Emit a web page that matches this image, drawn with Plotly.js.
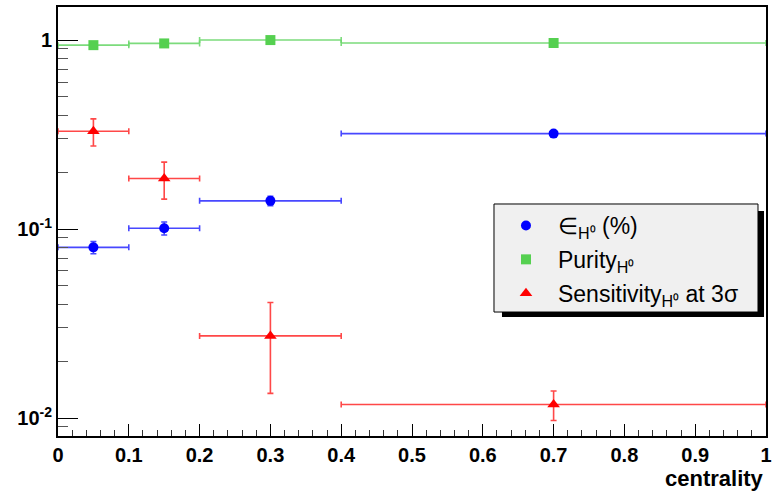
<!DOCTYPE html>
<html>
<head>
<meta charset="utf-8">
<script src="https://cdn.plot.ly/plotly-3.0.1.min.js"></script>
<style>html,body{margin:0;padding:0;background:#fff;}#chart{width:784px;height:491px;}</style>
</head>
<body>
<div id="chart"></div>
<script>
// bin centres and half widths (centrality)
const centers = [0.05, 0.15, 0.3, 0.7];
const halfWidths = [0.05, 0.05, 0.1, 0.3];
// efficiency (%)
const efficiency = [0.080, 0.101, 0.141, 0.32];
const efficiencyErr = [0.006, 0.008, 0.008, 0.0];
// purity
const purity = [0.94, 0.96, 1.00, 0.965];
// sensitivity at 3 sigma
const sensitivity = [0.329, 0.185, 0.0272, 0.0118];
const sensitivityErr = [0.054, 0.041, 0.0137, 0.0021];
// labels
const legendNames = ["∈<sub>H⁰</sub> (%)", "Purity<sub>H⁰</sub>", "Sensitivity<sub>H⁰</sub> at 3σ"];
const xTitle = "centrality";
const yTickVals = [0.01, 0.1, 1];
const yTickText = ["10<sup>-2</sup>", "10<sup>-1</sup>", "1"];

const FONT = "Liberation Sans, Arial, sans-serif";

function ex(color) {
  return {type: 'data', array: halfWidths, visible: true, color: color, thickness: 1.6, width: 3};
}

const traces = [
  {
    x: centers, y: efficiency, type: 'scatter', mode: 'markers', name: legendNames[0],
    legendgroup: 'a',
    marker: {symbol: 'circle', size: 10, color: '#0000ff'},
    error_x: ex('rgba(40,40,255,0.85)'),
    error_y: {type: 'data', array: efficiencyErr, visible: true, color: 'rgba(40,40,255,0.85)', thickness: 1.6, width: 3}
  },
  {
    x: centers, y: purity, type: 'scatter', mode: 'markers', name: legendNames[1],
    legendgroup: 'b',
    marker: {symbol: 'square', size: 10, color: '#55d050'},
    error_x: ex('rgba(110,215,110,0.9)')
  },
  {
    x: centers, y: sensitivity, type: 'scatter', mode: 'markers', name: legendNames[2],
    legendgroup: 'c',
    marker: {symbol: 'triangle-up', size: 11, color: '#ff0000'},
    error_x: ex('rgba(255,40,40,0.85)'),
    error_y: {type: 'data', array: sensitivityErr, visible: true, color: 'rgba(255,40,40,0.85)', thickness: 1.6, width: 3}
  }
];

const layout = {
  width: 784, height: 491,
  margin: {l: 58, r: 18, t: 7, b: 55},
  paper_bgcolor: '#ffffff', plot_bgcolor: '#ffffff',
  font: {family: FONT, color: '#000'},
  showlegend: true,
  xaxis: {
    range: [0, 1], dtick: 0.1, tick0: 0,
    showgrid: false, zeroline: false,
    showline: true, linecolor: '#000', linewidth: 2, mirror: true,
    ticks: 'inside', ticklen: 12, tickwidth: 1, tickcolor: '#000',
    tickfont: {family: FONT, size: 20, weight: 'bold'},
    minor: {dtick: 0.02, ticks: 'inside', ticklen: 6, tickwidth: 1, tickcolor: '#333', showgrid: false}
  },
  yaxis: {
    type: 'log', range: [-2.095, 0.175],
    tickmode: 'array', tickvals: yTickVals, ticktext: yTickText,
    showgrid: false, zeroline: false,
    showline: true, linecolor: '#000', linewidth: 2, mirror: true,
    ticks: 'inside', ticklen: 20, tickwidth: 1, tickcolor: '#000',
    tickfont: {family: FONT, size: 20, weight: 'bold'},
    minor: {dtick: 'D1', ticks: 'inside', ticklen: 10, tickwidth: 1, tickcolor: '#555', showgrid: false}
  },
  legend: {
    x: 0.6158, y: 0.5408, xanchor: 'left', yanchor: 'top',
    bgcolor: 'rgba(0,0,0,0)', borderwidth: 0,
    font: {family: FONT, size: 23, color: '#000'},
    tracegroupgap: 1, itemwidth: 54
  },
  shapes: [
    {type: 'rect', xref: 'paper', yref: 'paper', x0: 0.6271, x1: 0.9972, y0: 0.2774, y1: 0.5245,
     fillcolor: '#000', line: {width: 0}, layer: 'above'},
    {type: 'rect', xref: 'paper', yref: 'paper', x0: 0.6158, x1: 0.9887, y0: 0.2890, y1: 0.5408,
     fillcolor: '#f0f0f0', line: {width: 1, color: '#000'}, layer: 'above'}
  ],
  annotations: [
    {text: '<b>' + xTitle + '</b>', xref: 'paper', yref: 'paper', x: 1.0, y: -0.065,
     xanchor: 'right', yanchor: 'top', showarrow: false, font: {family: FONT, size: 22}}
  ]
};

Plotly.newPlot('chart', traces, layout, {displayModeBar: false, staticPlot: true});
</script>
</body>
</html>
